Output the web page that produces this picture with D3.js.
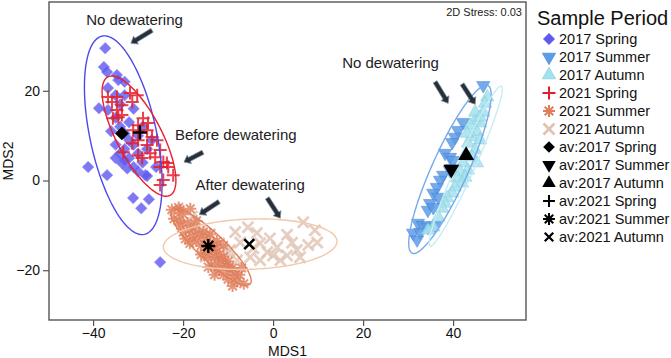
<!DOCTYPE html>
<html>
<head>
<meta charset="utf-8">
<script src="https://cdn.jsdelivr.net/npm/d3@7"></script>
<style>
  body { margin: 0; background: #fff; }
  svg { display: block; font-family: "Liberation Sans", Arial, sans-serif; }
</style>
</head>
<body>
<div id="graph"></div>
<script>
// nMDS scores
const spring2017 = [[-37.3,29.5],[-37.6,25.3],[-36.9,24.2],[-34.7,23.5],[-34.4,22.4],[-36.7,20.6],[-38.7,16.1],[-36.7,15.7],
  [-41.1,3.0],[-36.9,1.2],[-33.6,3.9],[-32.4,2.7],[-28.4,1.2],[-31.1,-3.9],[-27.6,-4.2],[-29.3,-6.2],[-25.1,-18.2],
  [-35,14],[-34,12],[-33,10.5],[-32,9],[-31,8],[-33,7],[-35,8],[-34,6],[-32,5],[-30,6],[-29,4],[-31,3],[-33,4.5],
  [-28,7],[-30,10],[-32,13],[-36,11],[-34,17],[-33,19],[-31,16],[-29,12],[-27,9],[-30,2],[-35,5],[-26,3],[-28,1],[-33,22],[-35,19]];
const summer2017 = [[46.7,21.2],[42.2,13.0],[41.1,11.2],[40.4,9.7],[39.8,8.5],[38.2,6.1],[39.3,5.2],[40.0,4.5],[39.8,2.7],
  [39.3,2.3],[37.8,1.2],[37.1,0.1],[36.4,-1.5],[35.6,-2.8],[36.7,-3.7],[34.9,-5.1],[34.4,-6.6],[35.6,-6.0],[32.2,-9.5],
  [33.3,-10.0],[31.1,-11.7],[34.4,-10.4],[32.7,-11.5],[36.0,-10.0],[32.0,-13.2]];
const autumn2017 = [[47.6,18.6],[47.1,17.2],[46.7,15.2],[44.9,13.4],[46.0,12.8],[43.8,12.3],[45.3,10.8],[44.2,9.7],[46.0,9.0],
  [43.3,8.3],[44.9,6.8],[44.2,5.2],[45.3,3.9],[42.2,3.9],[43.3,2.3],[41.6,1.9],[42.7,0.7],[40.9,0.5],[42.0,-0.6],[40.4,-1.5],
  [39.8,-2.8],[38.7,-3.9],[38.2,-5.1],[37.6,-6.2],[36.7,-8.2],[35.6,-10.4],[34.4,-11.1],[44.9,15.2],[46.0,14.1],[43.1,10.5]];
const spring2021 = [[-36.7,18.6],[-34.7,18.6],[-31.8,19.5],[-30.2,19.0],[-35.8,17.5],[-33.6,16.8],[-31.3,17.5],[-34.7,15.7],
  [-35.6,13.9],[-33.6,14.6],[-28.9,13.9],[-30.0,12.3],[-27.8,12.8],[-31.1,11.2],[-28.0,11.2],[-26.9,9.7],[-30.0,9.0],
  [-25.8,9.0],[-31.3,8.3],[-33.3,6.3],[-28.0,7.9],[-27.3,6.1],[-25.1,6.8],[-29.1,5.0],[-26.2,5.2],[-24.4,4.1],[-23.3,3.0],
  [-30.0,5.6],[-25.1,3.0],[-23.6,3.9],[-22.2,1.2],[-24.4,0.1],[-25.1,-1.0],[-34.4,14.1]];
const summer2021 = [[-22.5,-6.5],[-21,-6],[-20,-7.5],[-22,-8.5],[-21,-9],[-20.5,-10],[-19,-9.5],[-18.5,-11],[-20,-11.5],
  [-17.5,-10.5],[-18,-12.5],[-16.5,-12],[-17,-13.5],[-15.5,-11.5],[-16,-14.5],[-15,-13],[-14,-14],[-15,-15.5],[-13.5,-15.5],
  [-14.5,-17],[-12.5,-15],[-13,-17],[-12,-16.5],[-11.5,-18],[-13,-19],[-11,-17],[-10.5,-19],[-12,-20],[-10,-18],[-9.5,-20],
  [-11,-21],[-9,-19.5],[-8.5,-21],[-10,-22],[-8,-22.5],[-7.5,-21],[-6.5,-23],[-9,-23.5],[-16,-16.5],[-18.5,-14],[-19.5,-13],
  [-14,-12],[-12.5,-13.5],[-11,-14.5],[-17,-9],[-13,-21],[-7,-19.5],[-20.7,-6.5],[-18.4,-6.3],[-14.4,-19.3]];
const autumn2021 = [[-8.4,-11.5],[-5.6,-10.4],[-3.6,-11.7],[-7.3,-13.8],[-2.9,-14.0],[-0.7,-12.9],[-1.3,-16.0],[0.9,-14.9],
  [0,-16.7],[3.1,-12.1],[4.2,-13.9],[6.7,-9.3],[9.3,-11.1],[7.8,-14.4],[5.3,-15.5],[9.8,-13.8],[3.1,-16.7],[6.0,-17.1],
  [1.6,-17.8],[-2.9,-17.8],[-5.1,-17.1],[-9.6,-15.5],[-8.0,-17.8],[-4.4,-15.1],[-14,-12],[-12,-14],[-10,-16],[-11,-19],
  [-13,-18],[-16,-11],[-15,-17],[-18,-8]];

const groups = ["2017 Spring", "2017 Summer", "2017 Autumn", "2021 Spring", "2021 Summer", "2021 Autumn"];
const avgLabels = ["av:2017 Spring", "av:2017 Summer", "av:2017 Autumn", "av:2021 Spring", "av:2021 Summer", "av:2021 Autumn"];
const averages = [[-33.6,10.5],[39.6,2.5],[42.9,5.6],[-29.6,10.7],[-14.4,-14.6],[-5.3,-14.2]];
// ellipse: centre x, centre y, semi-axes, angle (deg)
const ellipseCx = [-33.3, 39.3, 42.8, -29.8, -13.8, -5.1];
const ellipseCy = [10.1, 2.5, 3.2, 9.9, -14.8, -14.2];
const ellipseA = [22.6, 20.5, 19.5, 14.9, 12, 19.3];
const ellipseB = [7.4, 4.0, 2.0, 5.0, 3.0, 5.6];
const ellipseAng = [102, 65.8, 66, 117.6, -43.6, 2];

const xTicks = [-40, -20, 0, 20, 40];
const yTicks = [-20, 0, 20];
const notes = [
  { text: "No dewatering", x: -30.8, y: 34.6, arrows: [[[-26.9,33.5],[-31.6,30.6]]] },
  { text: "Before dewatering", x: -8.3, y: 9.0, arrows: [[[-15.6,6.3],[-19.8,4.1]]] },
  { text: "After dewatering", x: -5.1, y: -2.2, arrows: [[[-12,-4.7],[-16.4,-7.6]], [[-1.3,-3.9],[1.6,-8.4]]] },
  { text: "No dewatering", x: 26.1, y: 25.0, arrows: [[[36,22],[38.9,17.2]], [[42,21.5],[44.9,17]]] }
];

const W = 671, H = 358;
const box = { l: 49, r: 526, t: 2, b: 320 };
const x = d3.scaleLinear().domain([-49.8, 56.2]).range([box.l, box.r]);
const y = d3.scaleLinear().domain([-31.1, 39.8]).range([box.b, box.t]);

const svg = d3.select("#graph").append("svg").attr("width", W).attr("height", H);

// symbol paths
const plusP = "M-6.5,0H6.5M0,-6.5V6.5";
const xP = "M-5.5,-5.5L5.5,5.5M-5.5,5.5L5.5,-5.5";
const astP = "M-6,0H6M0,-6V6M-4.3,-4.3L4.3,4.3M-4.3,4.3L4.3,-4.3";
const sq = d3.symbol(d3.symbolSquare, 66)();
const tri = d3.symbol(d3.symbolTriangle, 76)();

const styles = [
  { d: sq, rot: 45, fill: "#5f58ef", stroke: "#7a74f3", sw: 0.6, op: 0.8 },
  { d: tri, rot: 180, fill: "#5d9ce8", stroke: "#3f7fd2", sw: 0.6, op: 0.85 },
  { d: tri, rot: 0, fill: "#a4e2ee", stroke: "#78c6da", sw: 0.6, op: 0.85 },
  { d: plusP, rot: 0, fill: "none", stroke: "#e41f2d", sw: 2, op: 0.85 },
  { d: astP, rot: 0, fill: "none", stroke: "#e07c5a", sw: 2, op: 0.8 },
  { d: xP, rot: 0, fill: "none", stroke: "#e0c3b3", sw: 2.8, op: 0.8 }
];
const avgStyles = [
  { d: d3.symbol(d3.symbolSquare, 95)(), rot: 45, fill: "#000", stroke: "none", sw: 0 },
  { d: d3.symbol(d3.symbolTriangle, 110)(), rot: 180, fill: "#000", stroke: "none", sw: 0 },
  { d: d3.symbol(d3.symbolTriangle, 110)(), rot: 0, fill: "#000", stroke: "none", sw: 0 },
  { d: "M-7,0H7M0,-7V7", rot: 0, fill: "none", stroke: "#000", sw: 2.4 },
  { d: "M-7,0H7M0,-7V7M-5,-5L5,5M-5,5L5,-5", rot: 0, fill: "none", stroke: "#000", sw: 2.4 },
  { d: "M-5,-5L5,5M-5,5L5,-5", rot: 0, fill: "none", stroke: "#000", sw: 2.6 }
];
const ellColors = ["#4c48ee", "#74aaec", "#c6ecf4", "#e8202c", "#e27e56", "#f0c9ac"];

// frame + axes
svg.append("rect").attr("x", box.l).attr("y", box.t).attr("width", box.r - box.l).attr("height", box.b - box.t)
  .attr("fill", "none").attr("stroke", "#555").attr("stroke-width", 1.4);
const xAxis = svg.append("g").attr("transform", `translate(0,${box.b})`)
  .call(d3.axisBottom(x).tickValues(xTicks).tickSize(6).tickPadding(2));
const yAxis = svg.append("g").attr("transform", `translate(${box.l},0)`)
  .call(d3.axisLeft(y).tickValues(yTicks).tickSize(6).tickPadding(3));
[xAxis, yAxis].forEach((g) => {
  g.select(".domain").remove();
  g.selectAll("line").attr("stroke", "#555").attr("stroke-width", 1.2);
  g.selectAll("text").attr("font-size", 14).attr("fill", "#111").attr("font-family", "Liberation Sans, Arial, sans-serif");
});
svg.append("text").attr("x", (box.l + box.r) / 2).attr("y", 356).attr("text-anchor", "middle")
  .attr("font-size", 14).attr("fill", "#111").text("MDS1");
svg.append("text").attr("transform", `translate(13,${(box.t + box.b) / 2}) rotate(-90)`).attr("text-anchor", "middle")
  .attr("font-size", 14).attr("fill", "#111").text("MDS2");
svg.append("text").attr("x", 522).attr("y", 16).attr("text-anchor", "end").attr("font-size", 11).attr("fill", "#222")
  .text("2D Stress: 0.03");

// points
const plot = svg.append("g");
const series = [spring2017, summer2017, autumn2017, spring2021, autumn2021, summer2021];
const order = [0, 1, 2, 3, 5, 4];
series.forEach((pts, k) => {
  const s = styles[order[k]];
  plot.append("g").selectAll("path").data(pts).join("path")
    .attr("d", s.d)
    .attr("transform", (d) => `translate(${x(d[0])},${y(d[1])}) rotate(${s.rot})`)
    .attr("fill", s.fill).attr("stroke", s.stroke).attr("stroke-width", s.sw).attr("opacity", s.op);
});

// ellipses
const line = d3.line().x((d) => x(d[0])).y((d) => y(d[1])).curve(d3.curveLinearClosed);
ellipseCx.forEach((cx, i) => {
  const th = ellipseAng[i] * Math.PI / 180;
  const pts = d3.range(0, 360, 3).map((t) => {
    const r = t * Math.PI / 180;
    const u = ellipseA[i] * Math.cos(r), v = ellipseB[i] * Math.sin(r);
    return [cx + u * Math.cos(th) - v * Math.sin(th), ellipseCy[i] + u * Math.sin(th) + v * Math.cos(th)];
  });
  plot.append("path").attr("d", line(pts)).attr("fill", "none").attr("stroke", ellColors[i]).attr("stroke-width", 1.4);
});

// averages
averages.forEach((d, i) => {
  const s = avgStyles[i];
  plot.append("path").attr("d", s.d).attr("transform", `translate(${x(d[0])},${y(d[1])}) rotate(${s.rot})`)
    .attr("fill", s.fill).attr("stroke", s.stroke).attr("stroke-width", s.sw);
});

// annotations with block arrows
const blockArrow = (p0, p1) => {
  const dx = p1[0] - p0[0], dy = p1[1] - p0[1], L = Math.hypot(dx, dy);
  const ux = dx / L, uy = dy / L, nx = -uy, ny = ux, hw = 2.2, hh = 4.6, hl = 6;
  const bx = p1[0] - ux * hl, by = p1[1] - uy * hl;
  return `M${p0[0] + nx * hw},${p0[1] + ny * hw}L${bx + nx * hw},${by + ny * hw}L${bx + nx * hh},${by + ny * hh}` +
    `L${p1[0]},${p1[1]}L${bx - nx * hh},${by - ny * hh}L${bx - nx * hw},${by - ny * hw}L${p0[0] - nx * hw},${p0[1] - ny * hw}Z`;
};
notes.forEach((n) => {
  svg.append("text").attr("x", x(n.x)).attr("y", y(n.y)).attr("text-anchor", "middle")
    .attr("font-size", 15).attr("fill", "#222").text(n.text);
  n.arrows.forEach((a) => {
    svg.append("path").attr("d", blockArrow([x(a[0][0]), y(a[0][1])], [x(a[1][0]), y(a[1][1])]))
      .attr("fill", "#26303a").attr("stroke", "#7d8c99").attr("stroke-width", 0.8);
  });
});

// legend
const legend = svg.append("g");
legend.append("text").attr("x", 537).attr("y", 25).attr("font-size", 20).attr("fill", "#111").text("Sample Period");
const items = groups.map((g, i) => ({ label: g, s: styles[i], k: 1 }))
  .concat(avgLabels.map((g, i) => ({ label: g, s: avgStyles[i], k: 0.85 })));
items.forEach((it, i) => {
  const row = legend.append("g").attr("transform", `translate(549,${39 + i * 18})`);
  row.append("path").attr("d", it.s.d).attr("transform", `rotate(${it.s.rot}) scale(${it.k})`)
    .attr("fill", it.s.fill).attr("stroke", it.s.stroke).attr("stroke-width", it.s.sw);
  row.append("text").attr("x", 10).attr("y", 5).attr("font-size", 14.5).attr("fill", "#111").text(it.label);
});
</script>
</body>
</html>
